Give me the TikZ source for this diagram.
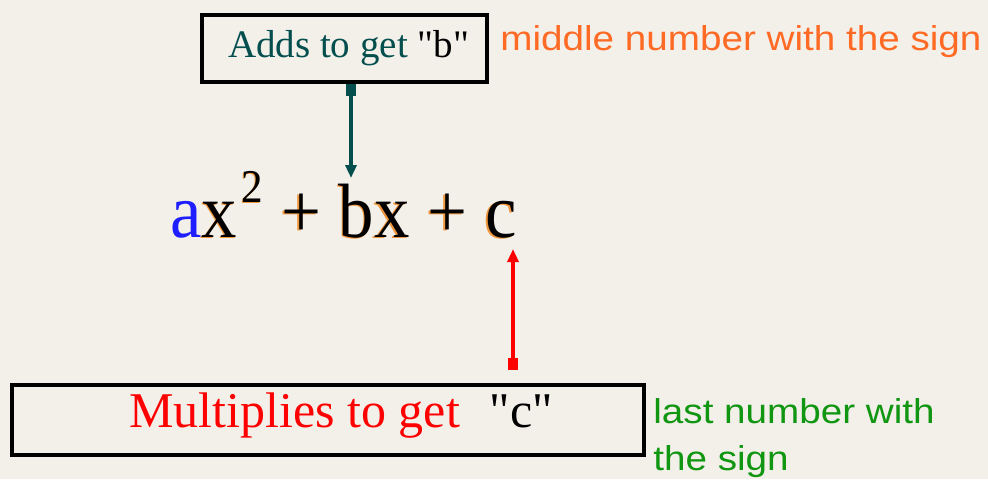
\documentclass[tikz,border=0pt]{standalone}
\usepackage{fontspec}
\usepackage{graphicx}
\setmainfont{Liberation Serif}
\setsansfont{Liberation Sans}
\usetikzlibrary{arrows.meta,positioning}
\definecolor{paper}{RGB}{243,240,234}
\definecolor{addteal}{RGB}{4,78,78}
\definecolor{signorange}{RGB}{255,106,36}
\definecolor{signgreen}{RGB}{16,150,16}
\definecolor{eqblue}{RGB}{30,30,255}
\definecolor{eqglow}{RGB}{240,150,60}
\newcommand{\quadexpr}[1]{\scalebox{0.92}[1]{#1{a}x\hspace{2.5pt}\raisebox{17.5pt}{\fontsize{23.5pt}{24pt}\selectfont 2}\ + bx + c}}
\newcommand{\glowexpr}{\makebox[0pt][l]{\hspace*{-0.75pt}\raisebox{-0.75pt}{\textcolor{eqglow}{\quadexpr{\phantom}}}}\quadexpr{\textcolor{eqblue}}}
\newcommand{\stretchsans}[1]{\scalebox{1.12}[1]{#1}}
\newcommand{\qtd}[1]{\textquotedbl#1\textquotedbl}
\tikzset{
  hintbox/.style={draw=black, line width=2pt, inner sep=0pt},
  signnote/.style={font=\sffamily\fontsize{17.25pt}{23.5pt}\selectfont, anchor=base west, inner sep=0pt, align=left},
  eqtext/.style={font=\fontsize{38.5pt}{40pt}\selectfont, anchor=base west, inner sep=0pt},
  pointer/.style={line width=2pt, {Square[length=6pt,width=5pt]}-{Triangle[length=6.5pt,width=5.5pt]}}
}
\begin{document}
\begin{tikzpicture}[x=0.5pt,y=-0.5pt]
            \useasboundingbox (0,0) rectangle (988,479);
            \fill[paper] (0,0) rectangle (988,479);
            \node[hintbox, minimum width=142.5pt, minimum height=33.5pt, font=\fontsize{19.5pt}{22pt}\selectfont]
                (addbox) at (344.5,48.5) {\hspace*{4pt}\textcolor{addteal}{Adds to get} \qtd{b}};
            \node[signnote, text=signorange] (middlenote) at (500,50) {\stretchsans{middle number with the sign}};
            \node[eqtext] (eq) at (170,237) {\glowexpr};
            \node[hintbox, minimum width=316pt, minimum height=35pt] (multbox) at (328,420) {};
            \node[font=\fontsize{25pt}{28pt}\selectfont, anchor=base west, inner sep=0pt, text=red]
                (multtext) at (129,427) {Multiplies to get\hspace{0.6em}\textcolor{black}{\qtd{c}}};
            \node[signnote, text=signgreen] (lastnote) at (653,470) {\stretchsans{last number with}\\\stretchsans{the sign}};
            \coordinate (btip) at (351,178);
            \coordinate (cfoot) at (513,370);
            \coordinate (ctip) at (513,249);
            \draw[pointer, addteal] (addbox.south -| btip) -- (btip);
            \draw[pointer, red] (cfoot) -- (ctip);
        \end{tikzpicture}
\end{document}
